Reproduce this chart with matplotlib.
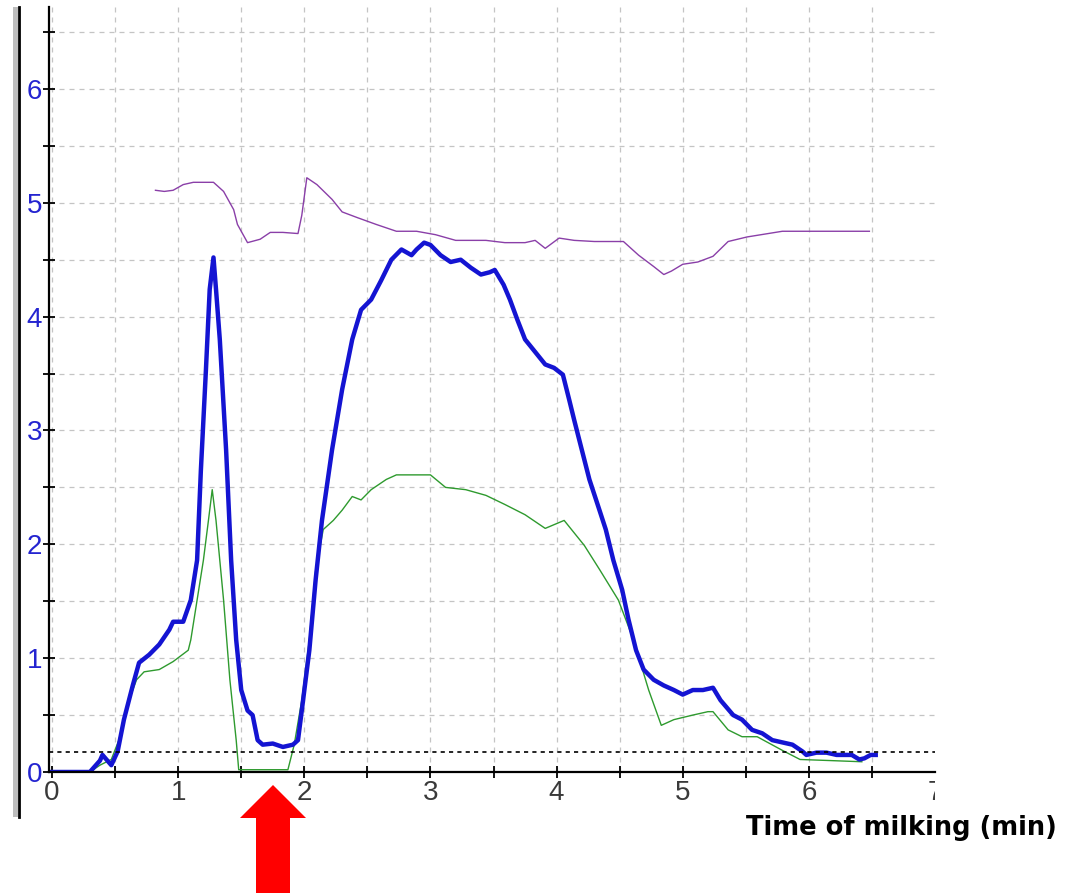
import matplotlib.pyplot as plt
from matplotlib.lines import Line2D
from matplotlib.patches import Polygon, Rectangle
from matplotlib.transforms import Bbox, TransformedBbox
import numpy as np

# milk flow (thick blue), min vs kg/min
flow_t = [0, 0.3, 0.38, 0.4, 0.47, 0.52, 0.57, 0.64, 0.69, 0.77, 0.85, 0.93, 0.96, 1.04, 1.1, 1.15,
          1.18, 1.22, 1.25, 1.28, 1.3, 1.33, 1.38, 1.42, 1.46, 1.5, 1.55, 1.59, 1.63, 1.67, 1.75,
          1.83, 1.91, 1.95, 1.98, 2.04, 2.09, 2.14, 2.22, 2.3, 2.38, 2.45, 2.53, 2.61, 2.69, 2.77,
          2.85, 2.89, 2.95, 3.0, 3.08, 3.16, 3.24, 3.32, 3.4, 3.47, 3.51, 3.58, 3.63, 3.69, 3.75,
          3.83, 3.91, 3.98, 4.05, 4.1, 4.14, 4.2, 4.26, 4.34, 4.39, 4.45, 4.52, 4.57, 4.63, 4.69,
          4.77, 4.85, 4.93, 5.0, 5.08, 5.16, 5.24, 5.3, 5.4, 5.47, 5.55, 5.63, 5.71, 5.79, 5.87,
          5.95, 5.98, 6.06, 6.14, 6.22, 6.34, 6.4, 6.44, 6.49, 6.53]
flow_v = [0, 0, 0.1, 0.15, 0.06, 0.18, 0.46, 0.76, 0.96, 1.03, 1.12, 1.25, 1.32, 1.32, 1.51, 1.86,
          2.65, 3.53, 4.24, 4.52, 4.24, 3.8, 2.83, 1.86, 1.16, 0.72, 0.54, 0.5, 0.28, 0.24, 0.25,
          0.22, 0.24, 0.28, 0.54, 1.07, 1.69, 2.21, 2.83, 3.36, 3.8, 4.06, 4.15, 4.32, 4.5, 4.59,
          4.54, 4.59, 4.65, 4.63, 4.54, 4.48, 4.5, 4.43, 4.37, 4.39, 4.41, 4.28, 4.15, 3.97, 3.8,
          3.69, 3.58, 3.55, 3.49, 3.27, 3.09, 2.83, 2.57, 2.3, 2.13, 1.86, 1.6, 1.34, 1.07, 0.9,
          0.81, 0.76, 0.72, 0.68, 0.72, 0.72, 0.74, 0.63, 0.5, 0.46, 0.37, 0.34, 0.28, 0.26, 0.24,
          0.18, 0.15, 0.17, 0.17, 0.15, 0.15, 0.11, 0.12, 0.15, 0.15]

# second flow trace (thin green)
green_t = [0, 0.3, 0.38, 0.47, 0.53, 0.61, 0.67, 0.73, 0.85, 0.96, 1.08, 1.1, 1.15, 1.2, 1.24, 1.27,
           1.3, 1.36, 1.41, 1.46, 1.48, 1.87, 1.92, 1.98, 2.04, 2.09, 2.15, 2.23, 2.3, 2.38, 2.45,
           2.53, 2.65, 2.73, 2.89, 3.0, 3.12, 3.28, 3.44, 3.59, 3.75, 3.91, 4.06, 4.22, 4.34, 4.49,
           4.61, 4.73, 4.83, 4.93, 5.08, 5.2, 5.24, 5.36, 5.47, 5.59, 5.79, 5.93, 6.18, 6.42]
green_v = [0, 0, 0.06, 0.11, 0.28, 0.63, 0.81, 0.88, 0.9, 0.97, 1.07, 1.16, 1.51, 1.86, 2.21, 2.48,
           2.21, 1.51, 0.81, 0.28, 0.02, 0.02, 0.24, 0.63, 1.16, 1.77, 2.13, 2.21, 2.3, 2.42, 2.39,
           2.48, 2.57, 2.61, 2.61, 2.61, 2.5, 2.48, 2.43, 2.35, 2.26, 2.14, 2.21, 1.99, 1.78, 1.51,
           1.16, 0.72, 0.41, 0.46, 0.5, 0.53, 0.53, 0.37, 0.31, 0.31, 0.19, 0.11, 0.1, 0.09]

# purple trace
purple_t = [0.82, 0.89, 0.96, 1.04, 1.12, 1.28, 1.36, 1.44, 1.47, 1.55, 1.65, 1.73, 1.83, 1.95,
            1.98, 2.02, 2.1, 2.22, 2.3, 2.42, 2.57, 2.73, 2.89, 3.04, 3.2, 3.44, 3.59, 3.75, 3.83,
            3.91, 4.02, 4.14, 4.3, 4.53, 4.65, 4.77, 4.85, 4.91, 5.0, 5.12, 5.24, 5.36, 5.51, 5.79,
            6.1, 6.48]
purple_v = [5.11, 5.1, 5.11, 5.16, 5.18, 5.18, 5.1, 4.94, 4.81, 4.65, 4.68, 4.74, 4.74, 4.73,
            4.89, 5.22, 5.16, 5.03, 4.92, 4.87, 4.81, 4.75, 4.75, 4.72, 4.67, 4.67, 4.65, 4.65, 4.67,
            4.6, 4.69, 4.67, 4.66, 4.66, 4.54, 4.44, 4.37, 4.4, 4.46, 4.48, 4.53, 4.66, 4.7, 4.75,
            4.75, 4.75]

threshold = 0.18
x_ticks = [0, 1, 2, 3, 4, 5, 6, 7]
y_ticks = [0, 1, 2, 3, 4, 5, 6]

fig = plt.figure(figsize=(10.72, 8.93), dpi=100)
ax = fig.add_axes([49 / 1072, 1 - 772 / 893, (935 - 49) / 1072, (772 - 7) / 893])

ax.plot(purple_t, purple_v, color='#8a3fa8', lw=1.0)
ax.plot(green_t, green_v, color='#2e9a2e', lw=1.0)
ax.plot(flow_t, flow_v, color='#1414d2', lw=3.2, solid_joinstyle='round')
ax.axhline(threshold, color='black', lw=1.2, ls=(0, (2.5, 2.5)))

ax.set_xticks(x_ticks)
ax.set_yticks(y_ticks)
ax.set_xticks(np.arange(0.5, 7, 1), minor=True)
ax.set_yticks(np.arange(0.5, 7, 1), minor=True)
ax.set_xlim(-0.024, 7.0)
ax.set_ylim(0, 6.72)
ax.grid(True, which='both', color='#c4c4c4', lw=0.9, ls=(0, (4, 4)))
ax.set_axisbelow(True)

for s in ['top', 'right']:
    ax.spines[s].set_visible(False)
ax.spines['left'].set_linewidth(1.6)
ax.spines['bottom'].set_linewidth(1.6)
ax.tick_params(which='both', direction='inout', length=8, width=1.3)
ax.tick_params(axis='y', labelcolor='#2424d0', labelsize=20, pad=1)
ax.tick_params(axis='x', labelcolor='#3a3a3a', labelsize=20, pad=2)
for lab in ax.get_xticklabels() + ax.get_yticklabels():
    lab.set_family('Liberation Sans')

# the last x label is cut off at the plot edge in the original
last = ax.xaxis.get_major_ticks()[-1]
last.tick1line.set_visible(False)
last.gridline.set_visible(False)
last.label1.set_clip_on(True)
last.label1.set_clip_box(TransformedBbox(Bbox([[0, 0], [935 / 1072, 1]]), fig.transFigure))

# grey frame edge at the far left
fig.add_artist(Rectangle((13 / 1072, 1 - 817 / 893), 5 / 1072, 810 / 893,
                         transform=fig.transFigure, color='#bdbdbd', lw=0))
fig.add_artist(Line2D([19 / 1072, 19 / 1072], [1 - 817 / 893, 1 - 7 / 893],
                      transform=fig.transFigure, color='black', lw=2))

fig.text(1057 / 1072, 1 - 828 / 893, 'Time of milking (min)', ha='right', va='center',
         fontsize=18.5, fontweight='bold', family='DejaVu Sans')

# red arrow pointing at the flow dip
arrow = [(256, 893), (290, 893), (290, 818), (306, 818), (273, 785), (240, 818), (256, 818)]
fig.add_artist(Polygon([(x / 1072, 1 - y / 893) for x, y in arrow],
                       transform=fig.transFigure, color='#ff0000', lw=0))

fig.savefig('out.png', dpi=100)
